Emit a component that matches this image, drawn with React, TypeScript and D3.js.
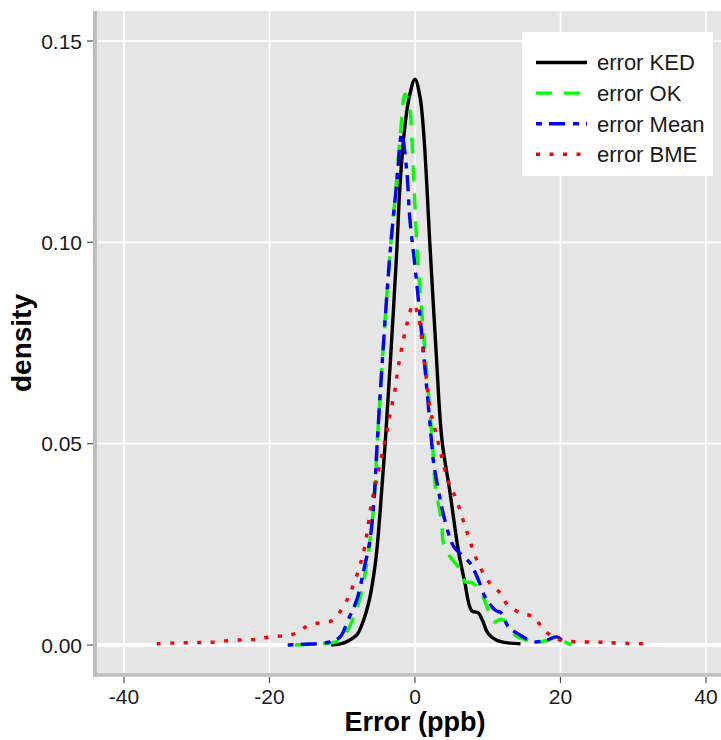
import * as d3 from "d3";

// error values (ppb) and density
const kedCurve: [number, number][] = [
  [-11.5, 0], [-10, 0.0004], [-9, 0.0012], [-8, 0.0025], [-7.1, 0.006], [-6.3, 0.011],
  [-5.4, 0.021], [-4.8, 0.033], [-4.1, 0.05], [-3.3, 0.073], [-2.5, 0.098], [-2.1, 0.113],
  [-1.5, 0.127], [-0.8, 0.136], [0, 0.1405], [0.7, 0.136], [1.2, 0.127], [1.6, 0.115],
  [2.0, 0.101], [2.9, 0.073], [3.7, 0.051], [4.8, 0.038], [6.0, 0.023], [6.8, 0.016],
  [7.8, 0.0085], [8.7, 0.008], [9.3, 0.006], [10.0, 0.003], [11.2, 0.0012], [12.5, 0.0006],
  [14.5, 0.0003],
];

const okCurve: [number, number][] = [
  [-16.5, 0], [-14, 0.0002], [-12, 0.0004], [-11, 0.0007], [-10.1, 0.0014], [-9.1, 0.0042],
  [-8.0, 0.009], [-7.1, 0.0155], [-6.4, 0.023], [-5.6, 0.036], [-5.2, 0.05], [-4.4, 0.073],
  [-3.4, 0.098], [-2.6, 0.114], [-2.0, 0.127], [-1.37, 0.1368], [-0.8, 0.1345], [-0.45, 0.1264],
  [-0.14, 0.114], [0.3, 0.098], [1.37, 0.073], [2.4, 0.05], [2.75, 0.04], [3.67, 0.0303],
  [3.9, 0.0253], [4.8, 0.022], [6.2, 0.0187], [6.9, 0.0157], [7.8, 0.0155], [8.9, 0.0137],
  [9.9, 0.0095], [10.8, 0.0058], [11.9, 0.0064], [12.6, 0.0054], [13.7, 0.0025], [15.4, 0.0012],
  [16.7, 0.0007], [18.3, 0.0012], [19.5, 0.0023], [20.8, 0.0006], [21.5, 0],
];

const meanCurve: [number, number][] = [
  [-17.5, 0], [-15, 0.0002], [-13, 0.0004], [-11.7, 0.0008], [-10.3, 0.002], [-9.2, 0.0062],
  [-8.0, 0.0112], [-7.0, 0.019], [-6.2, 0.026], [-5.6, 0.037], [-5.2, 0.05], [-4.4, 0.073],
  [-3.4, 0.098], [-2.5, 0.115], [-1.83, 0.1269], [-1.15, 0.118], [-0.7, 0.1057], [0.0, 0.094],
  [1.15, 0.073], [2.3, 0.05], [2.5, 0.046], [3.2, 0.0386], [4.1, 0.031], [5.3, 0.0245],
  [6.4, 0.0224], [7.6, 0.0203], [8.7, 0.0162], [9.6, 0.012], [11.0, 0.0087], [11.9, 0.0079],
  [12.8, 0.0046], [14.4, 0.0025], [16.3, 0.0008], [18.1, 0.0012], [19.5, 0.002], [20.4, 0.0008],
  [21, 0],
];

const bmeCurve: [number, number][] = [
  [-35.5, 0.0003], [-33, 0.0005], [-30, 0.0006], [-27.8, 0.0007], [-25, 0.0012], [-22.5, 0.0013],
  [-19.9, 0.002], [-16.7, 0.0027], [-14.9, 0.0046], [-13.5, 0.0054], [-11.7, 0.0058],
  [-10.2, 0.0085], [-8.9, 0.013], [-7.7, 0.019], [-6.9, 0.0245], [-6.0, 0.035], [-5.4, 0.04],
  [-4.7, 0.046], [-3.9, 0.0527], [-3.4, 0.0576], [-2.75, 0.0634], [-2.3, 0.069], [-1.6, 0.0759],
  [-1.14, 0.0795], [-0.23, 0.0846], [0.46, 0.0817], [0.92, 0.0759], [1.37, 0.069], [2.06, 0.059],
  [2.75, 0.0535], [3.5, 0.048], [4.5, 0.041], [5.6, 0.0365], [6.9, 0.0294], [7.8, 0.0245],
  [8.9, 0.0195], [10.3, 0.0153], [11.7, 0.0129], [12.8, 0.0098], [14.6, 0.0079], [16.3, 0.007],
  [17.5, 0.0042], [18.8, 0.0022], [20, 0.0012], [22, 0.0008], [25.4, 0.0007], [27.7, 0.0005],
  [32, 0.0003],
];

const seriesNames = ["error KED", "error OK", "error Mean", "error BME"];
const xTicks = [-40, -20, 0, 20, 40];
const yTicks = [0, 0.05, 0.1, 0.15];

const styles = [
  { color: "#000000", dash: "none" },
  { color: "#00ff00", dash: "16,12" },
  { color: "#0000ff", dash: "6,7,16,8" },
  { color: "#ff0000", dash: "4,9.5" },
];

const W = 721;
const H = 740;
const panel = { left: 97, right: 721, top: 11, bottom: 675 };
const font = "'Liberation Sans', Arial, sans-serif";

export default function App() {
  const x = d3.scaleLinear().domain([-40, 40]).range([124, 706]);
  const y = d3.scaleLinear().domain([0, 0.15]).range([645, 41]);

  const line = d3
    .line<[number, number]>()
    .x((d) => x(d[0]))
    .y((d) => Math.min(y(d[1]), y(0)))
    .curve(d3.curveCatmullRom.alpha(0.5));

  const curves = [kedCurve, okCurve, meanCurve, bmeCurve];

  return (
    <svg
      width={W}
      height={H}
      style={{ position: "absolute", left: 0, top: 0, background: "#fff" }}
      fontFamily={font}
    >
      <defs>
        <clipPath id="panel-clip">
          <rect x={panel.left} y={panel.top} width={panel.right - panel.left} height={panel.bottom - panel.top} />
        </clipPath>
      </defs>

      <rect
        x={panel.left}
        y={panel.top}
        width={panel.right - panel.left}
        height={panel.bottom - panel.top}
        fill="#e5e5e5"
      />

      {/* grid */}
      {xTicks.map((t) => (
        <line key={"gx" + t} x1={x(t)} x2={x(t)} y1={panel.top} y2={panel.bottom} stroke="#fff" strokeWidth={1.6} />
      ))}
      {yTicks.map((t) => (
        <line
          key={"gy" + t}
          x1={panel.left}
          x2={panel.right}
          y1={y(t)}
          y2={y(t)}
          stroke="#fff"
          strokeWidth={t === 0 ? 4 : 1.6}
        />
      ))}

      {/* density curves */}
      <g clipPath="url(#panel-clip)">
        {curves.map((c, i) => (
          <path
            key={seriesNames[i]}
            d={line(c) || ""}
            fill="none"
            stroke={styles[i].color}
            strokeWidth={3.4}
            strokeDasharray={styles[i].dash}
            strokeLinejoin="round"
          />
        ))}
      </g>

      {/* axis lines */}
      <line x1={95} x2={95} y1={panel.top} y2={panel.bottom + 2} stroke="#bebebe" strokeWidth={4} />
      <line x1={93} x2={panel.right} y1={675} y2={675} stroke="#bebebe" strokeWidth={3.5} />

      {/* y axis */}
      {yTicks.map((t) => (
        <g key={"ty" + t}>
          <line x1={87} x2={93} y1={y(t)} y2={y(t)} stroke="#4d4d4d" strokeWidth={1.2} />
          <text x={82} y={y(t) + 7.5} textAnchor="end" fontSize={21} fill="#1a1a1a">
            {d3.format(".2f")(t)}
          </text>
        </g>
      ))}

      {/* x axis */}
      {xTicks.map((t) => (
        <g key={"tx" + t}>
          <line x1={x(t)} x2={x(t)} y1={677} y2={683} stroke="#4d4d4d" strokeWidth={1.2} />
          <text x={x(t)} y={703.5} textAnchor="middle" fontSize={21} fill="#1a1a1a">
            {String(t)}
          </text>
        </g>
      ))}

      <text x={415} y={731} textAnchor="middle" fontSize={27} fontWeight="bold">
        Error (ppb)
      </text>
      <text
        transform={`translate(31,${(panel.top + panel.bottom) / 2}) rotate(-90)`}
        textAnchor="middle"
        fontSize={28}
        fontWeight="bold"
      >
        density
      </text>

      {/* legend */}
      <rect x={522} y={32} width={191} height={144} fill="#fff" />
      {seriesNames.map((name, i) => {
        const ly = 62.5 + i * 30.6;
        return (
          <g key={"lg" + name}>
            <line
              x1={536}
              x2={587}
              y1={ly}
              y2={ly}
              stroke={styles[i].color}
              strokeWidth={3.4}
              strokeDasharray={styles[i].dash}
            />
            <text x={597} y={ly + 7.8} fontSize={22} fill="#1a1a1a">
              {name}
            </text>
          </g>
        );
      })}
    </svg>
  );
}
